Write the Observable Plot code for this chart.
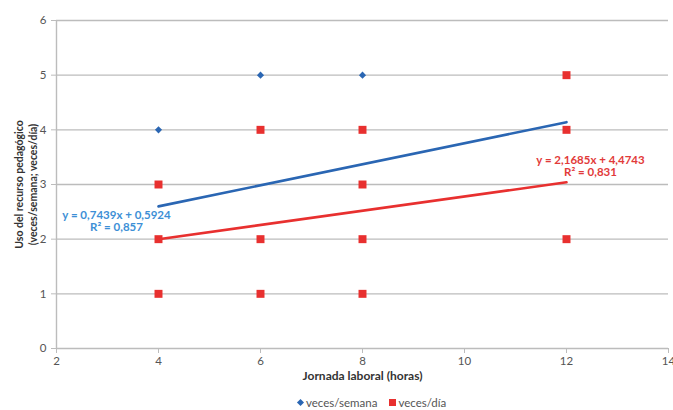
<!DOCTYPE html>
<html><head><meta charset="utf-8">
<script src="https://cdn.jsdelivr.net/npm/d3@7"></script>
<script src="https://cdn.jsdelivr.net/npm/@observablehq/plot@0.6"></script>
<style>
body{margin:0;background:#fff;font-family:Lato,"Open Sans",sans-serif;}
#wrap{position:relative;width:673px;height:410px;overflow:hidden;}
#legend{position:absolute;left:296px;top:396px;font-size:11.5px;color:#555;display:flex;align-items:center;gap:0;}
#legend .d{display:inline-block;width:5px;height:5px;background:#2a66b3;transform:rotate(45deg);margin:0 3px 0 2px;}
#legend .s{display:inline-block;width:7px;height:7px;background:#e8302f;margin:0 2px 0 12px;}
</style></head><body>
<div id="wrap"><div id="chart"></div>
<div id="legend"><span class="d"></span><span>veces/semana</span><span class="s"></span><span>veces/día</span></div></div>
<script>
const semanaX = [4, 6, 8];
const semanaY = [4, 5, 5];
const diaX = [4, 4, 4, 6, 6, 6, 8, 8, 8, 8, 12, 12, 12];
const diaY = [1, 2, 3, 1, 2, 4, 1, 2, 3, 4, 2, 4, 5];
const trendX = [4, 12];
const trendSemanaY = [2.6, 4.14];
const trendDiaY = [2.0, 3.04];
const xTicks = [2, 4, 6, 8, 10, 12, 14];
const yTicks = [0, 1, 2, 3, 4, 5, 6];
const eqSemana = "y = 0,7439x + 0,5924\nR² = 0,857";
const eqDia = "y = 2,1685x + 4,4743\nR² = 0,831";
const xTitle = "Jornada laboral (horas)";
const yTitle = "Uso del recurso pedagógico\n(veces/semana; veces/día)";

const semana = semanaX.map((x, i) => ({x, y: semanaY[i]}));
const dia = diaX.map((x, i) => ({x, y: diaY[i]}));
const tSemana = trendX.map((x, i) => ({x, y: trendSemanaY[i]}));
const tDia = trendX.map((x, i) => ({x, y: trendDiaY[i]}));

const blue = "#2a66b3", red = "#e8302f";
const chart = Plot.plot({
  width: 673, height: 392,
  marginLeft: 56, marginRight: 5, marginTop: 20, marginBottom: 44,
  style: {fontFamily: "Lato, 'Open Sans', sans-serif", fontSize: "11.5px", color: "#555", background: "#fff", overflow: "visible"},
  x: {domain: [2, 14]},
  y: {domain: [0, 6]},
  marks: [
    Plot.gridY(yTicks.slice(1), {stroke: "#bcbcbc", strokeOpacity: 1, strokeWidth: 1.4}),
    Plot.ruleX([2], {stroke: "#bcbcbc", strokeWidth: 1.4}),
    Plot.ruleY([0], {stroke: "#bcbcbc", strokeWidth: 1.4}),
    Plot.axisX(xTicks, {tickSize: 5, tickPadding: 3, stroke: "#bcbcbc", fill: "#555", label: null, fontSize: 11.5, tickFormat: "d"}),
    Plot.axisY(yTicks, {tickSize: 5, tickPadding: 5, stroke: "#bcbcbc", fill: "#555", label: null, fontSize: 11.5, tickFormat: "d"}),
    Plot.dot(semana, {x: "x", y: "y", symbol: "diamond2", r: 3.2, fill: blue, stroke: "none"}),
    Plot.dot(dia, {x: "x", y: "y", symbol: "square", r: 4.5, fill: red, stroke: "none"}),
    Plot.line(tSemana, {x: "x", y: "y", stroke: blue, strokeWidth: 2.6}),
    Plot.line(tDia, {x: "x", y: "y", stroke: red, strokeWidth: 2.6}),
    Plot.text([tSemana[0]], {x: "x", y: "y", text: () => eqSemana, dx: -42, dy: 15, fill: "#3d8fd6", fontWeight: "bold", fontSize: 11.5, lineHeight: 1.05}),
    Plot.text([tDia[1]], {x: "x", y: "y", text: () => eqDia, dx: 24, dy: -16, fill: "#e23a3a", fontWeight: "bold", fontSize: 11.5, lineHeight: 1.05}),
    Plot.text([xTitle], {text: d => d, frameAnchor: "bottom", dy: 31, fill: "#333", fontWeight: "bold", fontSize: 12}),
    Plot.text([yTitle], {text: d => d, frameAnchor: "left", textAnchor: "middle", dx: -31, rotate: -90, fill: "#333", fontWeight: "bold", fontSize: 10.5, lineHeight: 1.3})
  ]
});
document.getElementById("chart").appendChild(chart);
</script>
</body></html>
